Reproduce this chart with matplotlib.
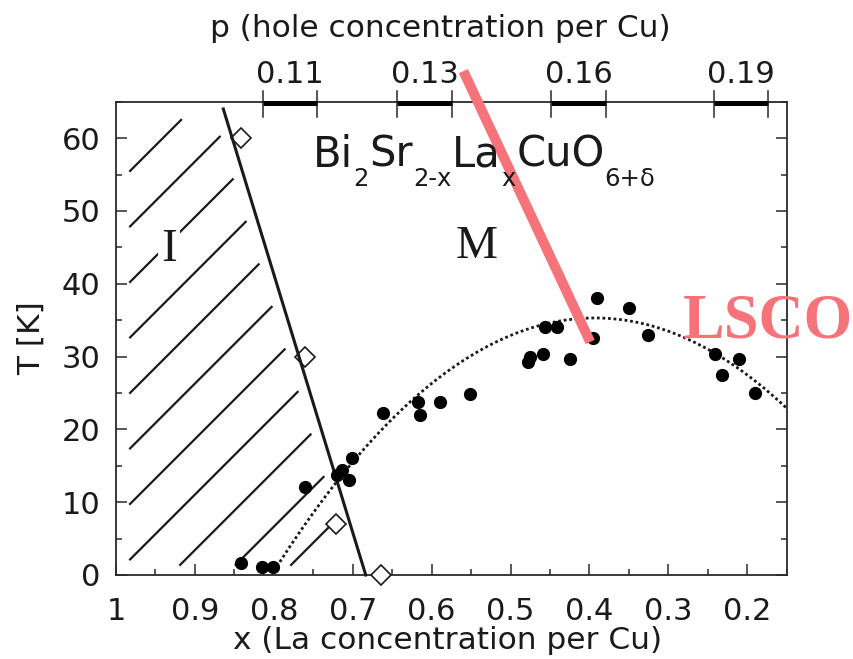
import numpy as np
import matplotlib
matplotlib.use("Agg")
import matplotlib.pyplot as plt
from matplotlib.transforms import blended_transform_factory

plt.rcParams['font.family'] = ['DejaVu Sans']

# Tc of Bi2Sr2-xLaxCuO6+d vs La content (filled circles)
la_x = [0.842, 0.815, 0.801, 0.760, 0.720, 0.714, 0.705, 0.701, 0.662, 0.617,
        0.615, 0.589, 0.551, 0.478, 0.475, 0.459, 0.456, 0.441, 0.425, 0.395,
        0.390, 0.350, 0.326, 0.241, 0.232, 0.210, 0.190]
tc = [1.65, 1.1, 1.1, 12.1, 13.8, 14.4, 13.1, 16.1, 22.3, 23.8,
      22.0, 23.7, 24.9, 29.2, 30.0, 30.3, 34.1, 34.1, 29.7, 32.6,
      38.1, 36.6, 33.0, 30.3, 27.5, 29.7, 25.0]

# insulating side: open diamonds and the boundary drawn through them
ins_x = [0.841, 0.761, 0.721, 0.664]
ins_t = [60, 30, 7, 0]
bound_x = [0.864, 0.6835]
bound_t = [64, 0]

# parabolic Tc dome fit
tc_max = 35.3
x_opt = 0.393
curv = 210.0
fit_x0, fit_x1 = 0.80, 0.15

# hole concentration marks on the top axis (x ranges for each p)
p_labels = ['0.11', '0.13', '0.16', '0.19']
p_lo_x = [0.814, 0.6435, 0.449, 0.242]
p_hi_x = [0.7457, 0.5746, 0.379, 0.1734]

x_major = [1, 0.9, 0.8, 0.7, 0.6, 0.5, 0.4, 0.3, 0.2]
x_minor = [0.95, 0.85, 0.75, 0.65, 0.55, 0.45, 0.35, 0.25, 0.15]
t_major = [0, 10, 20, 30, 40, 50, 60]
t_minor = [5, 15, 25, 35, 45, 55, 65]

pink = '#f7737a'
ink = '#1a1a1a'

W, H = 854, 659
fig = plt.figure(figsize=(W / 100, H / 100), dpi=100)
ax = fig.add_axes([116 / W, 1 - 575 / H, 670.7 / W, 473.3 / H])
ax.set_xlim(1, 0.15)
ax.set_ylim(0, 65)

for s in ax.spines.values():
    s.set_linewidth(1.3)
    s.set_color('#2a2a2a')

ax.set_xticks(x_major)
ax.set_xticklabels([f'{v:g}' for v in x_major])
ax.set_xticks(x_minor, minor=True)
ax.set_yticks(t_major)
ax.set_yticks(t_minor, minor=True)
ax.tick_params(which='both', direction='in', top=False, right=True,
               width=1.1, color='#2a2a2a', labelsize=22, labelcolor=ink)
ax.tick_params(which='major', length=8)
ax.tick_params(which='minor', length=4.5)
ax.tick_params(axis='x', pad=15.5)
ax.tick_params(axis='y', pad=11)

ax.set_xlabel('x (La concentration per Cu)', fontsize=22.5, color=ink)
ax.xaxis.set_label_coords(0.495, -0.108)
ax.set_ylabel('T [K]', fontsize=22.5, color=ink)
ax.yaxis.set_label_coords(-0.104, 0.5)

ax.text(0.483, 1.1357, 'p (hole concentration per Cu)', transform=ax.transAxes,
        ha='center', va='baseline', fontsize=22.5, color=ink)

# p markers on the top spine
ax_h = 473.3
top_tr = blended_transform_factory(ax.transData, ax.transAxes)
for lab, lo, hi in zip(p_labels, p_lo_x, p_hi_x):
    for xe in (lo, hi):
        ax.plot([xe, xe], [1 - 15 / ax_h, 1 + 11 / ax_h], color='#2a2a2a', lw=1.1,
                transform=top_tr, clip_on=False, zorder=5)
    ax.plot([lo, hi], [1 - 1 / ax_h, 1 - 1 / ax_h], color='black', lw=3.6,
            solid_capstyle='butt', transform=top_tr, clip_on=False, zorder=5)
    ax.text((lo + hi) / 2, 1 + 18.4 / ax_h, lab, transform=top_tr,
            ha='center', va='baseline', fontsize=22, color=ink)

# hatching of the insulating region, 45 deg lines cut short of the borders
inv = ax.transData.inverted()
px0, py0 = ax.transData.transform((1, 0))
px1, py1 = ax.transData.transform((0.15, 65))
bpts = ax.transData.transform(np.column_stack([bound_x, bound_t]))
order = np.argsort(bpts[:, 1])
bx, by = bpts[order, 0], bpts[order, 1]
xs = np.linspace(px0, px1, 3000)
for k in range(11):
    h = 390 - 55.5 * k
    ys = py0 + h + (xs - px0)
    m = ((xs >= px0 + 14) & (ys >= py0 + 10) & (ys <= py1 - 18)
         & (xs <= np.interp(ys, by, bx) - 12))
    if not m.any():
        continue
    seg = inv.transform([(xs[m][0], ys[m][0]), (xs[m][-1], ys[m][-1])])
    ax.plot(seg[:, 0], seg[:, 1], color=ink, lw=1.6, zorder=1)

ax.plot(bound_x, bound_t, color=ink, lw=2.2, zorder=3.5, clip_on=False)

fx = np.linspace(fit_x0, fit_x1, 300)
ax.plot(fx, tc_max - curv * (fx - x_opt) ** 2, color=ink, lw=2.0,
        linestyle=(0, (1.0, 1.0)), zorder=2)

ax.plot(la_x, tc, 'o', color='black', markersize=8.5, zorder=4)
ax.plot(ins_x, ins_t, 'D', markerfacecolor='white', markeredgecolor=ink,
        markeredgewidth=1.2, markersize=10.5, linestyle='none', zorder=3, clip_on=False)

ax.text(0.9328, 43.1, 'I', fontfamily='Liberation Serif', fontsize=34, color=ink,
        ha='center', va='baseline', zorder=2,
        bbox=dict(facecolor='white', edgecolor='none', pad=2))
ax.text(0.5428, 43.6, 'M', fontfamily='Liberation Serif', fontsize=34, color=ink,
        ha='center', va='baseline')

# compound formula with hand-sized subscripts
renderer = fig.canvas.get_renderer()
pieces = [('Bi', False), ('2', True), ('Sr', False), ('2-x', True), ('La', False),
          ('x', True), ('CuO', False), ('6+\u03b4', True)]
cx = 312.7
base = H - 166.7
for txt, sub in pieces:
    t = fig.text(cx / W, (base - 19 if sub else base) / H, txt,
                 fontsize=17.5 if sub else 30, color=ink, ha='left', va='baseline')
    cx = t.get_window_extent(renderer).x1 + (1 if sub else 0)

# LSCO pointer
ax.plot([0.5598, 0.399], [69.2, 32.0], color=pink, lw=7.2,
        solid_capstyle='butt', clip_on=False, zorder=6)
ax.text(0.2814, 32.6, 'LSCO', fontfamily='Liberation Serif', fontweight='bold',
        fontsize=45, color=pink, ha='left', va='baseline', zorder=6)

fig.savefig('out.png', dpi=100)
